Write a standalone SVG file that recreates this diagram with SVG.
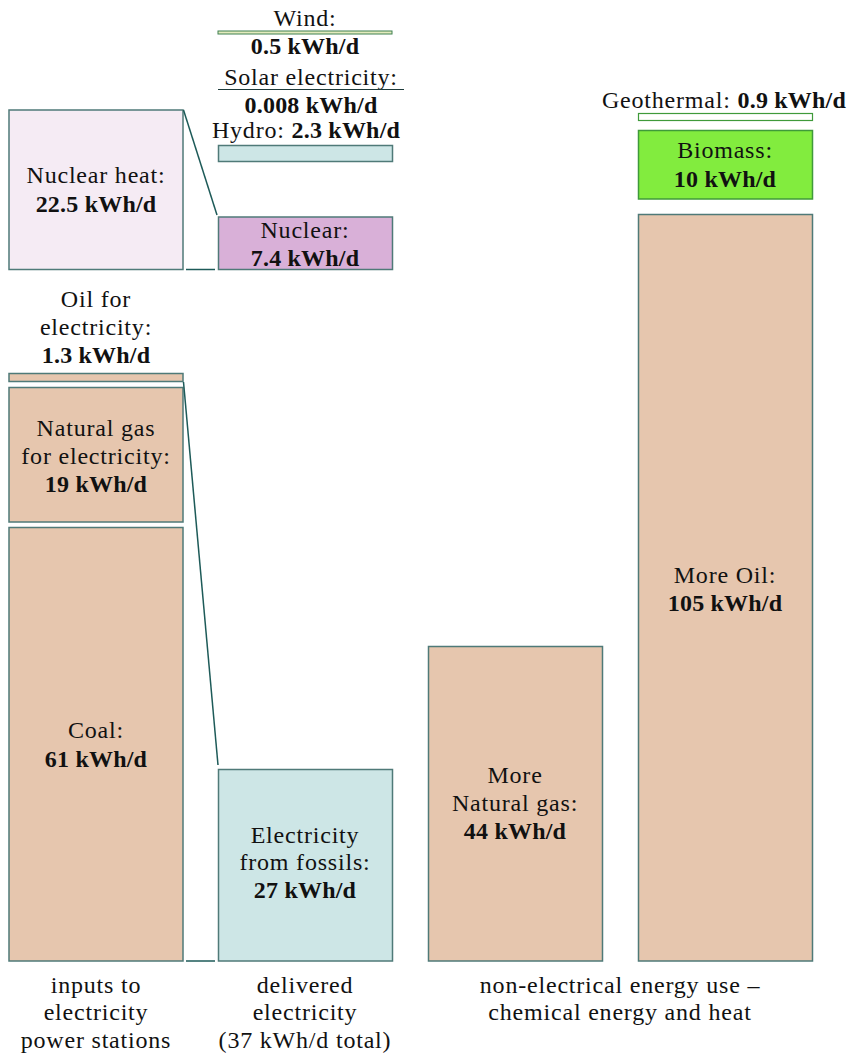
<svg xmlns="http://www.w3.org/2000/svg" width="848" height="1054" viewBox="0 0 848 1054">
<style>
text{font-family:"Liberation Serif","Times New Roman",serif;font-size:24px;fill:#111;text-anchor:middle;letter-spacing:0.8px}
.b{font-weight:bold;letter-spacing:0.2px}
.box{stroke:#4f7a78;stroke-width:1.5}
.fossil{fill:#e6c6ae}
.elec{fill:#cde6e6}
.conn{stroke:#1d5a58;stroke-width:1.5;fill:none}
</style>
<rect width="848" height="1054" fill="#fff"/>
<g id="wind">
<text x="305" y="26">Wind:</text>
<rect x="218" y="31" width="174" height="3" fill="#e4ebbd" stroke="#3f8050" stroke-width="1"/>
<text x="305" y="54" class="b">0.5 kWh/d</text>
</g>
<g id="solar">
<text x="311" y="85">Solar electricity:</text>
<line x1="218" y1="89.5" x2="404" y2="89.5" stroke="#1d3a3a" stroke-width="1.2"/>
<text x="311" y="113" class="b">0.008 kWh/d</text>
</g>
<g id="hydro">
<text x="306" y="138">Hydro: <tspan class="b">2.3 kWh/d</tspan></text>
<rect x="218.5" y="145.5" width="174" height="16" class="box elec"/>
</g>
<g id="nuclear-heat">
<rect x="9" y="110" width="174" height="159.5" class="box" fill="#f5ebf4"/>
<text x="96" y="183">Nuclear heat:</text>
<text x="96" y="212" class="b">22.5 kWh/d</text>
</g>
<g id="nuclear">
<rect x="218.5" y="217" width="174" height="52.5" class="box" fill="#d9b0d8"/>
<text x="305" y="238">Nuclear:</text>
<text x="305" y="266" class="b">7.4 kWh/d</text>
</g>
<g id="oil-elec">
<text x="96" y="307">Oil for</text>
<text x="96" y="335">electricity:</text>
<text x="96" y="363" class="b">1.3 kWh/d</text>
<rect x="9" y="373.5" width="174" height="8" class="box fossil"/>
</g>
<g id="gas-elec">
<rect x="9" y="387.5" width="174" height="134.5" class="box fossil"/>
<text x="96" y="436">Natural gas</text>
<text x="96" y="464">for electricity:</text>
<text x="96" y="492" class="b">19 kWh/d</text>
</g>
<g id="coal">
<rect x="9" y="527.5" width="174" height="433.5" class="box fossil"/>
<text x="96" y="738">Coal:</text>
<text x="96" y="767" class="b">61 kWh/d</text>
</g>
<g id="elec-fossils">
<rect x="218.5" y="769.5" width="174" height="191.5" class="box elec"/>
<text x="305" y="843">Electricity</text>
<text x="305" y="870">from fossils:</text>
<text x="305" y="898" class="b">27 kWh/d</text>
</g>
<g id="more-gas">
<rect x="428.5" y="646.5" width="174" height="314.5" class="box fossil"/>
<text x="515" y="783">More</text>
<text x="515" y="811">Natural gas:</text>
<text x="515" y="839" class="b">44 kWh/d</text>
</g>
<g id="more-oil">
<rect x="638.5" y="214.5" width="174" height="746.5" class="box fossil"/>
<text x="725" y="583">More Oil:</text>
<text x="725" y="611" class="b">105 kWh/d</text>
</g>
<g id="biomass">
<rect x="638.5" y="130.5" width="174" height="68.5" fill="#82ec3e" stroke="#3f9a3a" stroke-width="1.5"/>
<text x="725" y="158">Biomass:</text>
<text x="725" y="187" class="b">10 kWh/d</text>
</g>
<g id="geothermal">
<text x="724" y="108">Geothermal: <tspan class="b">0.9 kWh/d</tspan></text>
<rect x="638.5" y="113.5" width="174" height="7" fill="#fff" stroke="#3f9a3a" stroke-width="1.2"/>
</g>
<g id="labels">
<text x="96" y="993">inputs to</text>
<text x="96" y="1020">electricity</text>
<text x="96" y="1048">power stations</text>
<text x="305" y="993">delivered</text>
<text x="305" y="1020">electricity</text>
<text x="305" y="1048">(37 kWh/d total)</text>
<text x="620" y="993">non-electrical energy use –</text>
<text x="620" y="1020">chemical energy and heat</text>
</g>
<g id="connectors">
<line x1="183.5" y1="110" x2="217" y2="215" class="conn"/>
<line x1="186" y1="269.5" x2="215" y2="269.5" class="conn"/>
<line x1="183.5" y1="382" x2="218" y2="765" class="conn"/>
<line x1="186" y1="961" x2="215" y2="961" class="conn"/>
</g>
</svg>
